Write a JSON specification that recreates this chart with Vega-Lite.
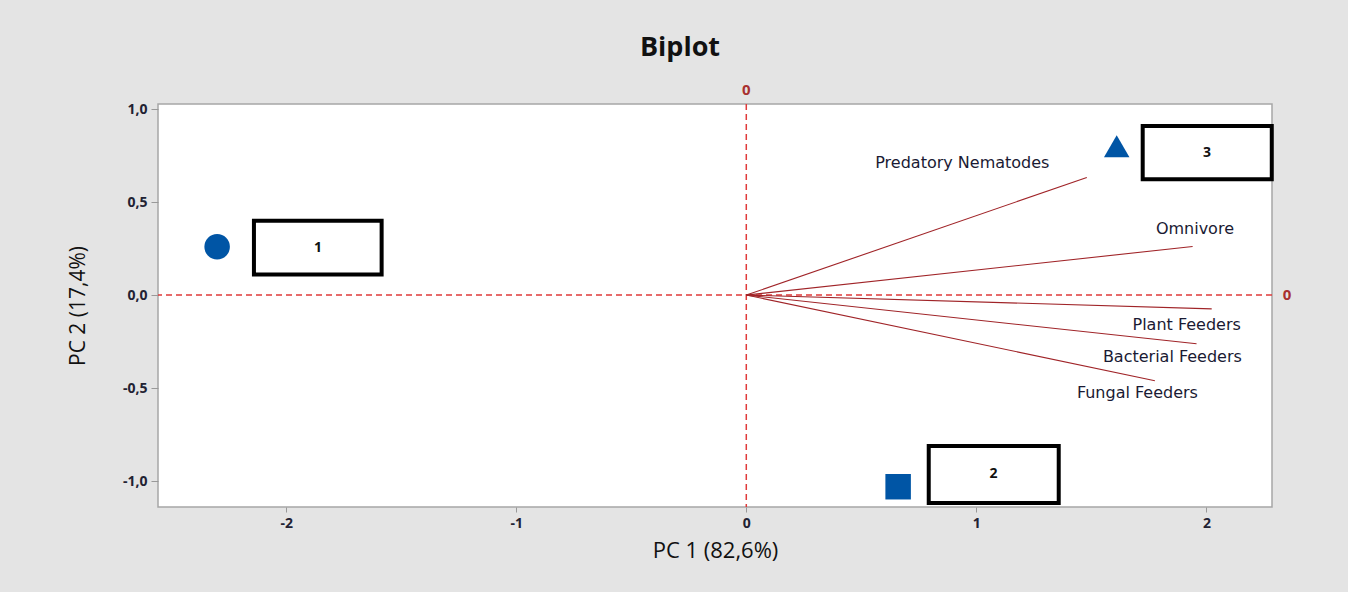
{
  "$schema": "https://vega.github.io/schema/vega-lite/v6.json",
  "width": 1114,
  "height": 403,
  "autosize": {"type": "none"},
  "padding": {"left": 158, "top": 104, "right": 76, "bottom": 85},
  "background": "#e4e4e4",
  "config": {
    "view": {"fill": "white", "stroke": "#a6a6a6", "strokeWidth": 1.5},
    "font": "Open Sans"
  },
  "title": {
    "text": "Biplot",
    "fontSize": 27,
    "fontWeight": "bold",
    "font": "Open Sans",
    "color": "#111111",
    "anchor": "middle",
    "dx": -35,
    "offset": 21
  },
  "datasets": {
    "scores": [
      {"obs": "1", "shape": "circle", "pc1": -2.30, "pc2": 0.26},
      {"obs": "2", "shape": "square", "pc1": 0.66, "pc2": -1.03},
      {"obs": "3", "shape": "triangle-up", "pc1": 1.61, "pc2": 0.80}
    ],
    "boxes": [
      {"obs": "1", "x1": -2.14, "x2": -1.585, "y1": 0.11, "y2": 0.399, "cx": -1.862, "cy": 0.255},
      {"obs": "2", "x1": 0.793, "x2": 1.358, "y1": -1.117, "y2": -0.811, "cx": 1.075, "cy": -0.964},
      {"obs": "3", "x1": 1.723, "x2": 2.284, "y1": 0.623, "y2": 0.909, "cx": 2.003, "cy": 0.766}
    ],
    "loadings": [
      {"var": "Predatory Nematodes", "pc1": 1.480, "pc2": 0.632, "lx": 0.939, "ly": 0.710},
      {"var": "Omnivore", "pc1": 1.940, "pc2": 0.261, "lx": 1.950, "ly": 0.354},
      {"var": "Plant Feeders", "pc1": 2.023, "pc2": -0.074, "lx": 1.914, "ly": -0.160},
      {"var": "Bacterial Feeders", "pc1": 1.957, "pc2": -0.262, "lx": 1.852, "ly": -0.333},
      {"var": "Fungal Feeders", "pc1": 1.776, "pc2": -0.460, "lx": 1.700, "ly": -0.526}
    ],
    "zero": [{"v": 0}],
    "zerolabels": [
      {"t": "0", "x": 0, "y": 1.103},
      {"t": "0", "x": 2.35, "y": 0}
    ]
  },
  "layer": [
    {
      "data": {"name": "zero"},
      "mark": {"type": "rule", "color": "#e03a3a", "strokeDash": [6, 4], "strokeWidth": 1.5},
      "encoding": {
        "x": {
          "field": "v", "type": "quantitative",
          "scale": {"domain": [-2.557, 2.285], "nice": false, "zero": false},
          "axis": {
            "values": [-2, -1, 0, 1, 2],
            "grid": false,
            "domain": false,
            "tickSize": 5,
            "tickColor": "#999999",
            "labelFont": "Open Sans",
            "labelFontSize": 14,
            "labelFontWeight": "bold",
            "labelColor": "#222233",
            "labelPadding": 4,
            "labelExpr": "replace(format(datum.value, 'd'), '\u2212', '-')",
            "title": "PC 1 (82,6%)",
            "titleFont": "Open Sans",
            "titleFontSize": 22,
            "titleFontWeight": "normal",
            "titleColor": "#111111",
            "titlePadding": 10
          }
        }
      }
    },
    {
      "data": {"name": "zero"},
      "mark": {"type": "rule", "color": "#e03a3a", "strokeDash": [6, 4], "strokeWidth": 1.5},
      "encoding": {
        "y": {
          "field": "v", "type": "quantitative",
          "scale": {"domain": [-1.139, 1.027], "nice": false, "zero": false},
          "axis": {
            "values": [-1, -0.5, 0, 0.5, 1],
            "grid": false,
            "domain": false,
            "tickSize": 7,
            "tickColor": "#999999",
            "labelFont": "Open Sans",
            "labelFontSize": 14,
            "labelFontWeight": "bold",
            "labelColor": "#222233",
            "labelPadding": 4,
            "labelExpr": "replace(replace(format(datum.value, '.1f'), '.', ','), '\u2212', '-')",
            "title": "PC 2 (17,4%)",
            "titleFont": "Open Sans",
            "titleFontSize": 21,
            "titleFontWeight": "normal",
            "titleColor": "#111111",
            "titlePadding": 34
          }
        }
      }
    },
    {
      "data": {"name": "zerolabels"},
      "mark": {"type": "text", "color": "#a8302f", "fontSize": 15, "fontWeight": "bold", "font": "Open Sans", "clip": false},
      "encoding": {
        "x": {"field": "x", "type": "quantitative", "scale": {"domain": [-2.557, 2.285], "nice": false, "zero": false}},
        "y": {"field": "y", "type": "quantitative", "scale": {"domain": [-1.139, 1.027], "nice": false, "zero": false}},
        "text": {"field": "t"}
      }
    },
    {
      "data": {"name": "loadings"},
      "mark": {"type": "rule", "color": "#a02428", "strokeWidth": 1.1},
      "encoding": {
        "x": {"field": "pc1", "type": "quantitative", "scale": {"domain": [-2.557, 2.285], "nice": false, "zero": false}},
        "y": {"field": "pc2", "type": "quantitative", "scale": {"domain": [-1.139, 1.027], "nice": false, "zero": false}},
        "x2": {"datum": 0},
        "y2": {"datum": 0}
      }
    },
    {
      "data": {"name": "loadings"},
      "mark": {"type": "text", "color": "#1a1a33", "fontSize": 16, "font": "DejaVu Sans", "align": "center", "baseline": "middle"},
      "encoding": {
        "x": {"field": "lx", "type": "quantitative", "scale": {"domain": [-2.557, 2.285], "nice": false, "zero": false}},
        "y": {"field": "ly", "type": "quantitative", "scale": {"domain": [-1.139, 1.027], "nice": false, "zero": false}},
        "text": {"field": "var"}
      }
    },
    {
      "data": {"name": "scores"},
      "mark": {"type": "point", "filled": true, "color": "#0055a5", "opacity": 1, "size": 650},
      "encoding": {
        "x": {"field": "pc1", "type": "quantitative", "scale": {"domain": [-2.557, 2.285], "nice": false, "zero": false}},
        "y": {"field": "pc2", "type": "quantitative", "scale": {"domain": [-1.139, 1.027], "nice": false, "zero": false}},
        "shape": {"field": "shape", "type": "nominal", "scale": null}
      }
    },
    {
      "data": {"name": "boxes"},
      "mark": {"type": "rect", "fill": "white", "stroke": "black", "strokeWidth": 4},
      "encoding": {
        "x": {"field": "x1", "type": "quantitative", "scale": {"domain": [-2.557, 2.285], "nice": false, "zero": false}},
        "x2": {"field": "x2"},
        "y": {"field": "y1", "type": "quantitative", "scale": {"domain": [-1.139, 1.027], "nice": false, "zero": false}},
        "y2": {"field": "y2"}
      }
    },
    {
      "data": {"name": "boxes"},
      "mark": {"type": "text", "color": "#111111", "fontSize": 14, "fontWeight": "bold", "font": "Open Sans", "align": "center", "baseline": "middle"},
      "encoding": {
        "x": {"field": "cx", "type": "quantitative", "scale": {"domain": [-2.557, 2.285], "nice": false, "zero": false}},
        "y": {"field": "cy", "type": "quantitative", "scale": {"domain": [-1.139, 1.027], "nice": false, "zero": false}},
        "text": {"field": "obs"}
      }
    }
  ]
}
